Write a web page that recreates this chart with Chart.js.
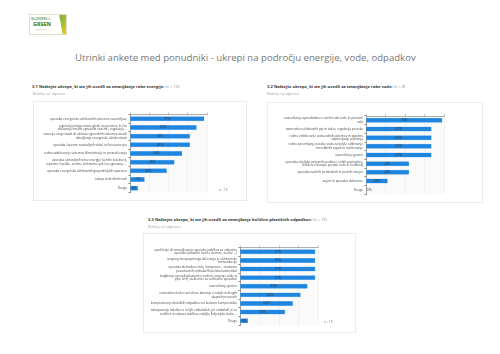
<!DOCTYPE html>
<html><head><meta charset="utf-8">
<script src="https://cdn.jsdelivr.net/npm/chart.js@4/dist/chart.umd.min.js"></script>
<style>
html,body{margin:0;padding:0;background:#fff;width:500px;height:354px;overflow:hidden;font-family:"Open Sans","Liberation Sans",sans-serif;}
.t{position:absolute;white-space:nowrap;line-height:1;}
.box{position:absolute;background:#fff;border:1px solid #ececec;box-sizing:border-box;box-shadow:0 0 1px rgba(0,0,0,0.05);}
.box canvas{position:absolute;left:0;top:0;}
.head{font-weight:700;color:#333;font-size:4.1px;}
.head span{font-weight:400;color:#888;}
.sub{color:#999;font-size:2.8px;}
.nn{color:#666;font-size:3px;}
</style>
</head><body>

<!-- logo -->
<div style="position:absolute;left:29px;top:14px;width:38px;height:21px;border:0.5px solid #d9e3c6;box-sizing:border-box;background:#fff;overflow:hidden;">
  <div class="t" style="left:1px;top:2px;font-size:4.2px;font-weight:700;color:#8aa05a;letter-spacing:-0.1px;">SLOVEN<span style="color:#b9c79a;font-weight:400">IA</span></div>
  <div class="t" style="left:3px;top:7px;font-size:5.4px;font-weight:800;color:#5f8f2a;">GREEN</div>
  <div class="t" style="left:6px;top:13.5px;font-size:1.6px;color:#999;">DESTINATION</div>
  <div style="position:absolute;left:27px;top:0;width:11px;height:21px;background:linear-gradient(120deg,#7aa33a 0%,#9fbe3a 45%,#e8c21e 75%,#d9a914 100%);clip-path:polygon(20% 0,100% 0,100% 100%,55% 100%);"></div>
</div>

<div class="t" style="left:75px;top:53px;font-size:9.6px;color:#777;">Utrinki ankete med ponudniki - ukrepi na področju energije, vode, odpadkov</div>

<div class="t head" style="left:32px;top:84.5px;">3.1 Naštejte ukrepe, ki ste jih uvedli za zmanjšanje rabe energije: <span>(n = 13)</span></div>
<div class="t sub" style="left:33px;top:93px;">Možnih je več odgovorov</div>
<div class="box" style="left:33px;top:101px;width:214px;height:100px;"><canvas id="c1"></canvas></div>
<div class="t nn" style="left:219px;top:188.5px;">n = 13</div>

<div class="t head" style="left:267px;top:84.5px;">3.2 Naštejte ukrepe, ki ste jih uvedli za zmanjšanje rabe vode: <span>(n = 9)</span></div>
<div class="t sub" style="left:267px;top:93px;">Možnih je več odgovorov</div>
<div class="box" style="left:267px;top:102px;width:216px;height:101px;"><canvas id="c2"></canvas></div>

<div class="t head" style="left:148px;top:218px;">3.3 Naštejte ukrepe, ki ste jih uvedli za zmanjšanje količine plastičnih odpadkov: <span>(n = 13)</span></div>
<div class="t sub" style="left:148px;top:225.5px;">Možnih je več odgovorov</div>
<div class="box" style="left:143px;top:233px;width:213px;height:100px;"><canvas id="c3"></canvas></div>
<div class="t nn" style="left:324px;top:321px;">n = 13</div>

<script>
// ---- data ----
const energyCategories = [
  "uporaba energetsko učinkovitih sistemov razsvetljave",
  ["regulacija temperature glede na prostore in čas", "delovanja (mehki ogrevalni sistemi), regulacija ..."],
  ["sanacija ovoja stavb ali obnova ogrevalnih sistemov zaradi", "izboljšanja energetske učinkovitosti"],
  "uporaba časovno nastavljivih stikal in fotosenzorjev",
  "redno vzdrževanje sistemov klimatizacije in prezračevanja",
  ["uporaba obnovljivih virov energije (sončni kolektorji,", "toplotne črpalke, sončne elektrarne ipd.) za ogrevanje ..."],
  "uporaba energetsko učinkovitih gospodinjskih aparatov",
  "nakup električnih vozil",
  "Drugo"
];
const energyValues = [77, 69, 62, 62, 54, 46, 38, 15, 8];

const waterCategories = [
  ["ozaveščanje uporabnikov o varčni rabi vode in ponovni", "rabi"],
  "namestitev učinkovitih pip in tušev, regulacija pretoka",
  ["redno vzdrževanje vodovodnih sistemov in sprotno", "odpravljanje puščanja"],
  ["redno spremljanje porabe vode za boljše odkrivanje", "morebitnih napak in načrtovanje"],
  "ozaveščanje gostov",
  ["uporaba okoljsko prijaznih sredstev, suhih postopkov,", "čistilcev z manjšo porabo vode in kemikalij"],
  "uporaba varčnih pomivalnih in pralnih strojev",
  "zajem in uporaba deževnice",
  "Drugo"
];
const waterValues = [78, 67, 67, 67, 67, 44, 44, 22, 0];

const plasticCategories = [
  ["opuščanje ali zmanjševanje uporabe izdelkov za enkratno", "uporabo (plastični lončki, slamice, vrečke ...)"],
  ["uvajanje brezpapirnega delovanja in elektronske", "komunikacije"],
  ["uporaba dozirnikov mila, šamponov ... namesto", "posameznih embalaž (hotelska kozmetika)"],
  ["izogibanje uporabi plastenk z vodo in uvajanje vode iz", "pipe (vrči, steklenice za večkratno uporabo)"],
  "ozaveščanje gostov",
  ["namestitev košev za ločeno zbiranje v sobah in drugih", "skupnih prostorih"],
  "kompostiranje bioloških odpadkov na lastnem kompostniku",
  ["nakupovanje izdelkov v večjih embalažah, pri embalaži, ki se", "reciklira in nabava izdelkov z daljšo življenjsko dobo ..."],
  "Drugo"
];
const plasticValues = [77, 77, 77, 77, 69, 62, 54, 46, 8];

const axisTicks = [0, 20, 40, 60, 80];

// ---- plugins ----
const plotBg = {
  id: 'plotBg',
  beforeDraw(chart) {
    const a = chart.chartArea, ctx = chart.ctx;
    ctx.save(); ctx.fillStyle = '#fafafa';
    ctx.fillRect(a.left, a.top, a.right - a.left, a.bottom - a.top);
    ctx.restore();
  }
};
const valueLabels = {
  id: 'valueLabels',
  afterDatasetsDraw(chart) {
    const ctx = chart.ctx, meta = chart.getDatasetMeta(0);
    const vals = chart.data.datasets[0].data;
    ctx.save();
    ctx.font = '3.3px "Open Sans", sans-serif';
    ctx.fillStyle = '#333';
    ctx.textBaseline = 'middle';
    meta.data.forEach((bar, i) => {
      const v = vals[i];
      if (v === 0) { ctx.textAlign = 'left'; ctx.fillText(v + '%', bar.base + 1, bar.y); }
      else { ctx.textAlign = 'center'; ctx.fillText(v + '%', (bar.x + bar.base) / 2, bar.y); }
    });
    ctx.restore();
  }
};

function makeChart(id, w, h, labels, values, plotLeft, plotRight, plotTop, plotBottom) {
  const cv = document.getElementById(id);
  cv.width = w; cv.height = h; cv.style.width = w + 'px'; cv.style.height = h + 'px';
  return new Chart(cv, {
    type: 'bar',
    data: {
      labels: labels,
      datasets: [{
        data: values,
        backgroundColor: '#1f86e0',
        borderColor: 'rgba(120,180,240,0.9)',
        borderWidth: 0.5,
        borderSkipped: 'start',
        barThickness: 4.3
      }]
    },
    options: {
      indexAxis: 'y',
      responsive: false,
      animation: false,
      devicePixelRatio: 1,
      layout: { padding: { left: 0, top: 0, right: w - plotRight, bottom: h - plotBottom } },
      plugins: { legend: { display: false }, tooltip: { enabled: false } },
      scales: {
        x: {
          position: 'top',
          min: axisTicks[0], max: axisTicks[axisTicks.length - 1],
          afterBuildTicks(s) { s.ticks = axisTicks.map(v => ({ value: v })); },
          ticks: { display: false },
          grid: { color: '#dcdcdc', lineWidth: 0.6, drawTicks: true, tickLength: 2, tickColor: '#999', tickBorderDash: [] },
          border: { color: '#9a9a9a', width: 0.8, dash: [1, 1] },
          afterFit(s) { s.height = plotTop; }
        },
        y: {
          ticks: {
            font: { size: 3.1, family: '"Open Sans", sans-serif', lineHeight: 1.15 },
            color: '#444', padding: 1.5, autoSkip: false
          },
          grid: { drawOnChartArea: false, drawTicks: true, tickLength: 1.5, tickColor: '#888' },
          border: { color: '#888', width: 0.8 },
          afterFit(s) { s.width = plotLeft; }
        }
      }
    },
    plugins: [plotBg, valueLabels]
  });
}

makeChart('c1', 214, 100, energyCategories, energyValues, 96, 173, 12.5, 90.5);
makeChart('c2', 216, 101, waterCategories, waterValues, 98, 176, 13, 91);
makeChart('c3', 213, 100, plasticCategories, plasticValues, 96, 174, 13.5, 91);
</script>
</body></html>
